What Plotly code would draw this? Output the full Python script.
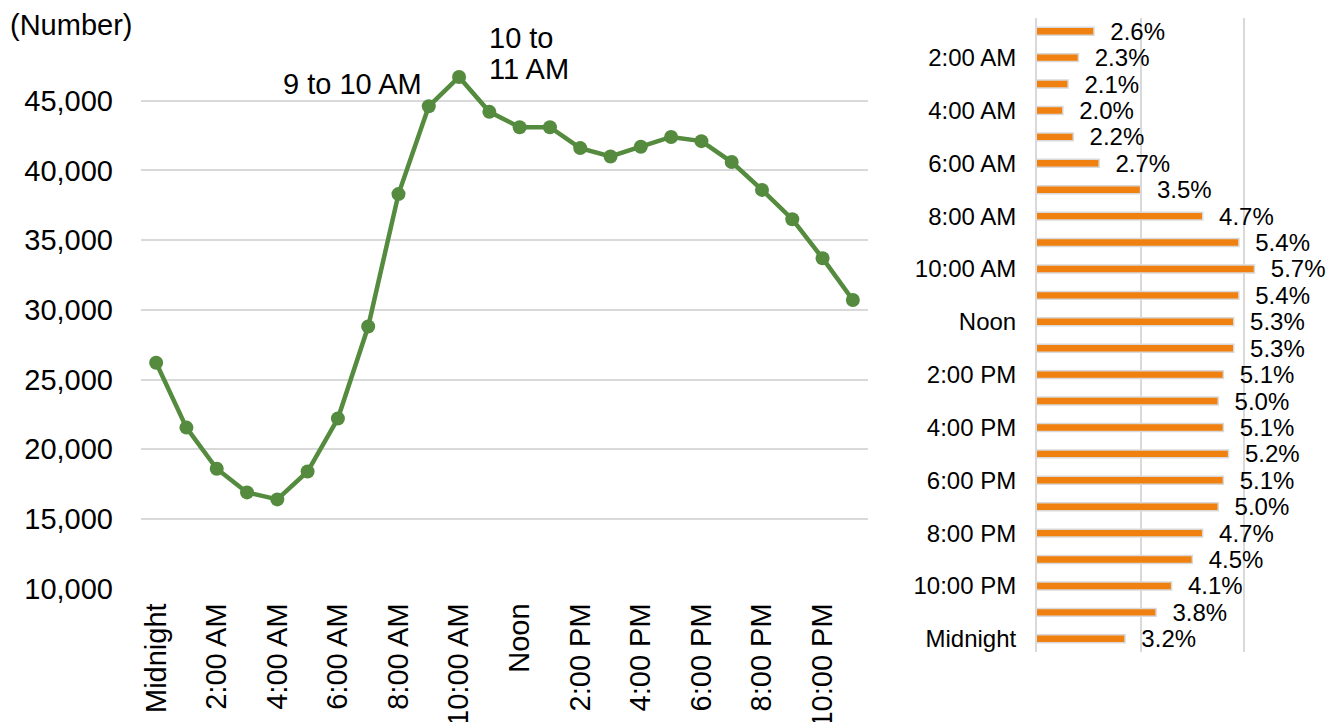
import plotly.graph_objects as go

# ---- data ----
hours = ["Midnight", "1:00 AM", "2:00 AM", "3:00 AM", "4:00 AM", "5:00 AM",
         "6:00 AM", "7:00 AM", "8:00 AM", "9:00 AM", "10:00 AM", "11:00 AM",
         "Noon", "1:00 PM", "2:00 PM", "3:00 PM", "4:00 PM", "5:00 PM",
         "6:00 PM", "7:00 PM", "8:00 PM", "9:00 PM", "10:00 PM", "11:00 PM"]
counts = [26200, 21550, 18600, 16900, 16400, 18400, 22200, 28800, 38300, 44600,
          46700, 44200, 43100, 43100, 41600, 41000, 41700, 42400, 42100, 40600,
          38600, 36500, 33700, 30700]

bar_cats = hours[1:] + hours[:1]
shares = [2.6, 2.3, 2.1, 2.0, 2.2, 2.7, 3.5, 4.7, 5.4, 5.7, 5.4, 5.3,
          5.3, 5.1, 5.0, 5.1, 5.2, 5.1, 5.0, 4.7, 4.5, 4.1, 3.8, 3.2]

y_ticks = [10000, 15000, 20000, 25000, 30000, 35000, 40000, 45000, 50000]
y_ticktext = ["10,000", "15,000", "20,000", "25,000", "30,000", "35,000",
              "40,000", "45,000", ""]
x_tickvals = hours[::2]
bar_tickvals = bar_cats[1::2]
bar_grid = [1.5, 3.5, 5.5]

W, H = 1336, 722
FONT = "Liberation Sans, Arial, sans-serif"
GREEN = "#548B3E"
ORANGE = "#F0800F"
GRID = "#D9D9D9"

def px(x):
    return x / W

def py(y):
    return 1 - y / H

fig = go.Figure()

fig.add_trace(go.Scatter(
    x=hours, y=counts, mode="lines+markers",
    line=dict(color=GREEN, width=4.5),
    marker=dict(color=GREEN, size=14),
    xaxis="x", yaxis="y", showlegend=False, hoverinfo="x+y",
))

fig.add_trace(go.Bar(
    x=shares, y=bar_cats, orientation="h",
    marker=dict(color=ORANGE, line=dict(color=GRID, width=1.5)),
    width=0.3,
    text=shares, texttemplate="\u00a0\u00a0%{x:.1f}%", textposition="outside",
    textfont=dict(family=FONT, size=24, color="#000000"),
    constraintext="none",
    cliponaxis=False,
    xaxis="x2", yaxis="y2", showlegend=False,
))

fig.update_layout(
    template="none",
    width=W, height=H,
    margin=dict(l=0, r=0, t=0, b=0, autoexpand=False),
    paper_bgcolor="white", plot_bgcolor="white",
    font=dict(family=FONT, color="#000000"),
    xaxis=dict(
        domain=[px(141), px(868)], type="category",
        categoryorder="array", categoryarray=hours,
        range=[-0.5, 23.5], automargin=False,
        tickmode="array", tickvals=x_tickvals, ticktext=x_tickvals,
        tickangle=-90, tickfont=dict(size=29),
        showgrid=False, zeroline=False, showline=False,
        ticks="", ticklabelstandoff=8,
    ),
    yaxis=dict(
        domain=[py(588.6), py(31)], range=[10000, 50000], automargin=False,
        tickmode="array", tickvals=y_ticks, ticktext=y_ticktext,
        tickfont=dict(size=29),
        showgrid=True, gridcolor=GRID, gridwidth=1.5,
        zeroline=False, showline=False, ticks="", ticklabelstandoff=27,
    ),
    xaxis2=dict(
        domain=[px(1037), px(1270)], range=[1.5, 6.0], automargin=False,
        tickmode="array", tickvals=bar_grid, showticklabels=False,
        showgrid=True, gridcolor=GRID, gridwidth=1.5,
        zeroline=False, showline=False, anchor="y2",
    ),
    yaxis2=dict(
        domain=[py(652), py(18)], type="category",
        categoryorder="array", categoryarray=bar_cats,
        autorange="reversed", automargin=False,
        tickmode="array", tickvals=bar_tickvals, ticktext=bar_tickvals,
        tickfont=dict(size=24),
        showgrid=False, zeroline=False,
        showline=True, linecolor=GRID, linewidth=2,
        ticks="", ticklabelstandoff=14, anchor="x2",
    ),
    bargap=0.7,
    shapes=[dict(type="rect", xref="paper", yref="paper",
                 x0=0, x1=px(168), y0=py(45), y1=py(12),
                 fillcolor="white", line=dict(width=0), layer="above")],
    annotations=[
        dict(text="(Number)", xref="paper", yref="paper",
             x=px(8), y=py(25), xanchor="left", yanchor="middle",
             showarrow=False, font=dict(size=29)),
        dict(text="9 to 10 AM", xref="paper", yref="paper",
             x=px(352), y=py(84), xanchor="center", yanchor="middle",
             showarrow=False, font=dict(size=29)),
        dict(text="10 to", xref="paper", yref="paper",
             x=px(487), y=py(38), xanchor="left", yanchor="middle",
             align="left", showarrow=False, font=dict(size=29)),
        dict(text="11 AM", xref="paper", yref="paper",
             x=px(487), y=py(69), xanchor="left", yanchor="middle",
             align="left", showarrow=False, font=dict(size=29)),
    ],
)

fig.write_html(
    "out.html",
    config={"displayModeBar": False},
    post_script="document.body.style.margin='0';document.body.style.overflow='hidden';",
)
